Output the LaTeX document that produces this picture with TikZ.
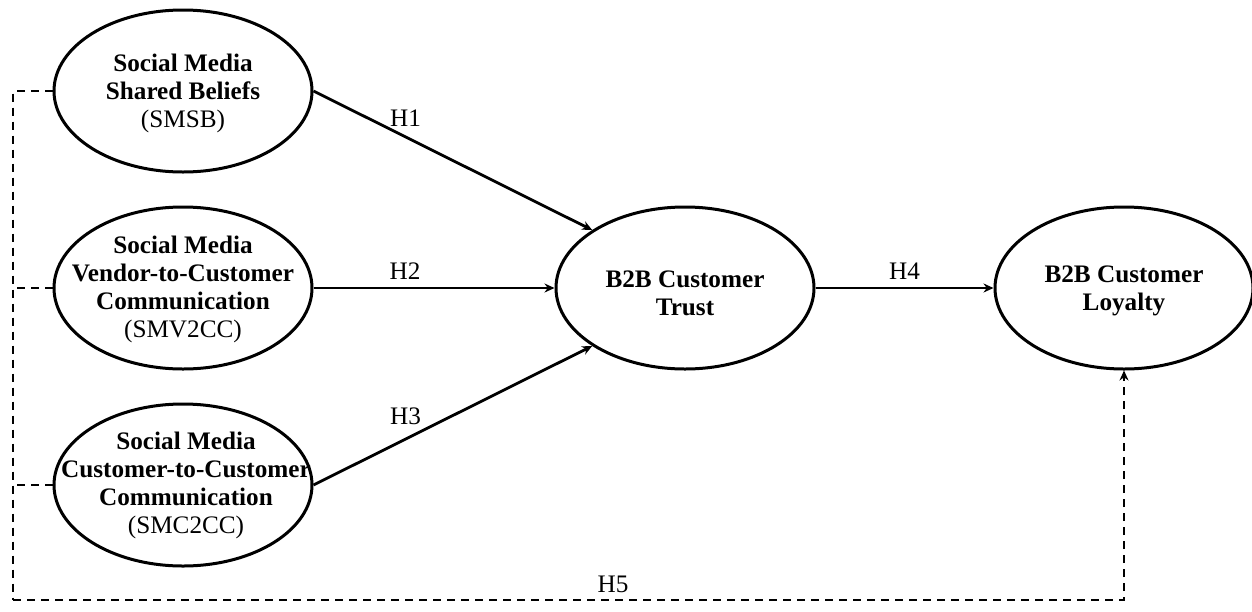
\documentclass[tikz,border=0pt]{standalone}
\usepackage{fontspec}
\setmainfont{Liberation Serif}
\usetikzlibrary{shapes.geometric,arrows.meta}

\tikzset{
  construct/.style={draw, ellipse, line width=1.5pt, minimum width=129pt, minimum height=81pt, inner sep=0pt},
  ctext/.style={align=center, font=\fontsize{12.6}{14}\selectfont\bfseries, inner sep=0pt},
  hyp/.style={->, line width=1.4pt},
  hlab/.style={font=\fontsize{12.6}{14}\selectfont},
  ctrlpath/.style={dashed, line width=0.7pt, dash pattern=on 4pt off 3pt}
}

\begin{document}
\begin{tikzpicture}[x=0.5pt, y=-0.5pt, >={Stealth[length=5pt,width=4.5pt]}]
  \useasboundingbox (0,0) rectangle (1252,611);
  % constructs
  \node[construct] (smsb) at (183,91) {};
  \node[construct] (smv2cc) at (183,288) {};
  \node[construct] (smc2cc) at (183,485) {};
  \node[construct] (trust) at (685,288) {};
  \node[construct] (loyal) at (1124,288) {};
  \node[ctext] (smsb-t) at (183,93) {Social Media\\Shared Beliefs\\\mdseries(SMSB)};
  \node[ctext] (smv2cc-t) at (183,289) {Social Media\\Vendor-to-Customer\\Communication\\\mdseries(SMV2CC)};
  \node[ctext] (smc2cc-t) at (186,485) {Social Media\\Customer-to-Customer\\Communication\\\mdseries(SMC2CC)};
  \node[ctext] (trust-t) at (685,293) {B2B Customer\\Trust};
  \node[ctext] (loyal-t) at (1124,291) {B2B Customer\\Loyalty};
  % hypotheses
  \draw[hyp] (smsb.east) -- node[hlab, pos=0.33, above=1pt] (h1) {H1} (trust.148);
  \draw[hyp] (smv2cc.east) -- node[hlab, pos=0.38, above=0pt] (h2) {H2} (trust.west);
  \draw[hyp] (smc2cc.east) -- node[hlab, pos=0.33, above=3pt] (h3) {H3} (trust.212);
  \draw[hyp] (trust.east) -- node[hlab, pos=0.5, above=0pt] (h4) {H4} (loyal.west);
  % control path
  \coordinate (bl) at (13,600);
  \draw[ctrlpath] (smsb.west) -| (bl);
  \draw[ctrlpath, ->] (bl) -| node[hlab, pos=0.27, above=0pt] (h5) {H5} (loyal.south);
  \draw[ctrlpath] (smv2cc.west) -- (smv2cc.west -| bl);
  \draw[ctrlpath] (smc2cc.west) -- (smc2cc.west -| bl);
\end{tikzpicture}
\end{document}
